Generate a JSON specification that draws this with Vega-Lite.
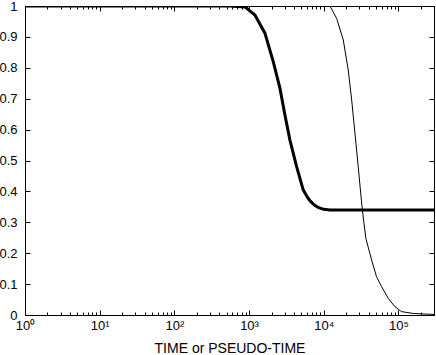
{
  "$schema": "https://vega.github.io/schema/vega-lite/v6.json",
  "width": 409,
  "height": 309,
  "autosize": {"type": "none"},
  "padding": {"left": 25, "top": 6, "right": 2, "bottom": 40},
  "background": "white",
  "config": {
    "view": {"stroke": "black", "strokeWidth": 1},
    "axis": {
      "labelFont": "Liberation Sans",
      "labelFontSize": 13,
      "labelColor": "black",
      "titleFont": "Liberation Sans",
      "titleFontSize": 14,
      "titleFontWeight": "normal",
      "titleColor": "black",
      "domainColor": "black",
      "tickColor": "black",
      "grid": false
    }
  },
  "data": {
    "values": [
      {"t": 1, "v": 1, "s": "a"},
      {"t": 300, "v": 1, "s": "a"},
      {"t": 555, "v": 1, "s": "a"},
      {"t": 881, "v": 0.997, "s": "a"},
      {"t": 1200, "v": 0.971, "s": "a"},
      {"t": 1633, "v": 0.912, "s": "a"},
      {"t": 2109, "v": 0.82, "s": "a"},
      {"t": 2593, "v": 0.734, "s": "a"},
      {"t": 3026, "v": 0.647, "s": "a"},
      {"t": 3531, "v": 0.566, "s": "a"},
      {"t": 4339, "v": 0.48, "s": "a"},
      {"t": 5316, "v": 0.405, "s": "a"},
      {"t": 6000, "v": 0.383, "s": "a"},
      {"t": 6531, "v": 0.37, "s": "a"},
      {"t": 7500, "v": 0.356, "s": "a"},
      {"t": 8436, "v": 0.348, "s": "a"},
      {"t": 10000, "v": 0.342, "s": "a"},
      {"t": 12100, "v": 0.34, "s": "a"},
      {"t": 300000, "v": 0.34, "s": "a"},
      {"t": 1, "v": 1, "s": "b"},
      {"t": 12100, "v": 1, "s": "b"},
      {"t": 14900, "v": 0.96, "s": "b"},
      {"t": 18300, "v": 0.89, "s": "b"},
      {"t": 21300, "v": 0.793, "s": "b"},
      {"t": 23700, "v": 0.696, "s": "b"},
      {"t": 26200, "v": 0.589, "s": "b"},
      {"t": 29000, "v": 0.48, "s": "b"},
      {"t": 32000, "v": 0.37, "s": "b"},
      {"t": 33000, "v": 0.34, "s": "b"},
      {"t": 34500, "v": 0.3, "s": "b"},
      {"t": 36700, "v": 0.248, "s": "b"},
      {"t": 43800, "v": 0.178, "s": "b"},
      {"t": 51000, "v": 0.124, "s": "b"},
      {"t": 59600, "v": 0.092, "s": "b"},
      {"t": 73100, "v": 0.054, "s": "b"},
      {"t": 89800, "v": 0.027, "s": "b"},
      {"t": 110000, "v": 0.011, "s": "b"},
      {"t": 158000, "v": 0.005, "s": "b"},
      {"t": 226000, "v": 0.003, "s": "b"},
      {"t": 300000, "v": 0.002, "s": "b"}
    ]
  },
  "resolve": {"axis": {"x": "independent", "y": "independent"}},
  "layer": [
    {
      "mark": {"type": "line", "color": "black", "interpolate": "linear", "clip": true},
      "encoding": {
        "x": {
          "field": "t", "type": "quantitative",
          "scale": {"type": "log", "domain": [1, 300000], "nice": false},
          "axis": {
            "orient": "bottom",
            "title": "TIME or PSEUDO-TIME",
            "titlePadding": 7,
            "values": [1,2,3,4,5,6,7,8,9,10,20,30,40,50,60,70,80,90,100,200,300,400,500,600,700,800,900,1000,2000,3000,4000,5000,6000,7000,8000,9000,10000,20000,30000,40000,50000,60000,70000,80000,90000,100000,200000],
            "labelExpr": "abs(log(datum.value)/LN10 - round(log(datum.value)/LN10)) < 1e-6 ? '10' + ['⁰','¹','²','³','⁴','⁵'][round(log(datum.value)/LN10)] : ''",
            "tickSize": {"condition": {"test": "abs(log(datum.value)/LN10 - round(log(datum.value)/LN10)) < 1e-6", "value": -5}, "value": -3},
            "labelPadding": 9,
            "labelFlush": false,
            "labelOverlap": false
          }
        },
        "y": {
          "field": "v", "type": "quantitative",
          "scale": {"domain": [0, 1], "nice": false},
          "axis": {
            "orient": "left",
            "title": null,
            "values": [0,0.1,0.2,0.3,0.4,0.5,0.6,0.7,0.8,0.9,1],
            "format": "~g",
            "tickSize": -5,
            "labelPadding": 13,
            "labelFlush": false,
            "labelOverlap": false
          }
        },
        "detail": {"field": "s"},
        "strokeWidth": {"field": "s", "type": "nominal", "scale": {"domain": ["a", "b"], "range": [3, 1]}, "legend": null}
      }
    },
    {
      "mark": {"type": "line", "opacity": 0},
      "encoding": {
        "x": {
          "field": "t", "type": "quantitative",
          "scale": {"type": "log", "domain": [1, 300000], "nice": false},
          "axis": {
            "orient": "top",
            "title": null,
            "labels": false,
            "values": [1,2,3,4,5,6,7,8,9,10,20,30,40,50,60,70,80,90,100,200,300,400,500,600,700,800,900,1000,2000,3000,4000,5000,6000,7000,8000,9000,10000,20000,30000,40000,50000,60000,70000,80000,90000,100000,200000],
            "tickSize": {"condition": {"test": "abs(log(datum.value)/LN10 - round(log(datum.value)/LN10)) < 1e-6", "value": -5}, "value": -3}
          }
        },
        "y": {
          "field": "v", "type": "quantitative",
          "scale": {"domain": [0, 1], "nice": false},
          "axis": {
            "orient": "right",
            "title": null,
            "labels": false,
            "values": [0,0.1,0.2,0.3,0.4,0.5,0.6,0.7,0.8,0.9,1],
            "tickSize": -5
          }
        },
        "detail": {"field": "s"}
      }
    }
  ]
}
